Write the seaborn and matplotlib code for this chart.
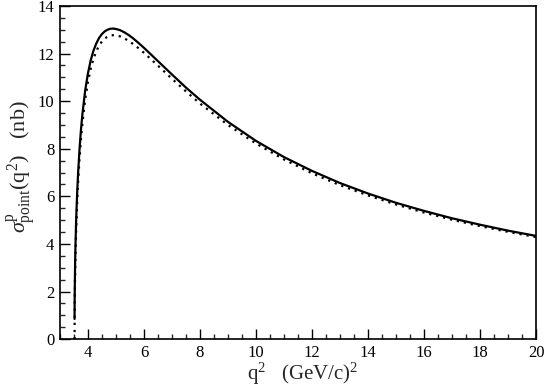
import matplotlib
matplotlib.use('Agg')
import matplotlib.pyplot as plt
from matplotlib.ticker import MultipleLocator
import seaborn as sns
import pandas as pd

# q^2 (GeV/c)^2
q2 = [3.522, 3.525, 3.53, 3.54, 3.55, 3.57, 3.58, 3.6, 3.62, 3.65, 3.7, 3.75,
      3.8, 3.9, 4.0, 4.1, 4.2, 4.3, 4.4, 4.5, 4.6, 4.7, 4.8, 4.9, 5.0, 5.15,
      5.3, 5.45, 5.6, 5.8, 6.0, 6.5, 7.0, 7.5, 8.0, 9.0, 10.0, 11.0, 12.0,
      13.0, 14.0, 15.0, 16.0, 17.0, 18.0, 19.0, 20.0]
# solid curve (nb)
sigma_solid = [0.85, 1.59, 2.23, 3.08, 3.70, 4.65, 5.04, 5.71, 6.29, 7.02,
               8.00, 8.79, 9.43, 10.44, 11.17, 11.72, 12.13, 12.43, 12.66,
               12.82, 12.93, 13.00, 13.04, 13.05, 13.03, 12.98, 12.89, 12.78,
               12.65, 12.45, 12.24, 11.68, 11.12, 10.57, 10.06, 9.13, 8.33,
               7.65, 7.07, 6.56, 6.12, 5.73, 5.39, 5.08, 4.81, 4.56, 4.34]
# dotted curve (nb)
sigma_dotted = [0.0, 1.11, 1.78, 2.63, 3.26, 4.22, 4.61, 5.29, 5.87, 6.61,
                7.60, 8.39, 9.04, 10.06, 10.81, 11.37, 11.79, 12.10, 12.34,
                12.51, 12.63, 12.71, 12.76, 12.77, 12.76, 12.72, 12.64, 12.53,
                12.41, 12.23, 12.03, 11.49, 10.94, 10.41, 9.90, 9.00, 8.22,
                7.55, 6.97, 6.47, 6.04, 5.66, 5.32, 5.02, 4.75, 4.51, 4.29]

df = pd.DataFrame({'q2': q2, 'solid': sigma_solid, 'dotted': sigma_dotted})

sns.set_style('ticks')
plt.rcParams['font.family'] = ['Liberation Serif', 'DejaVu Serif']
plt.rcParams['mathtext.fontset'] = 'custom'
plt.rcParams['mathtext.rm'] = 'Liberation Serif'
plt.rcParams['mathtext.it'] = 'Liberation Serif:italic'

fig = plt.figure(figsize=(5.45, 3.89), dpi=100)
ax = fig.add_axes([0.110, 0.128, 0.8735, 0.8568])

sns.lineplot(data=df, x='q2', y='solid', ax=ax, color='black', linewidth=1.6)
sns.lineplot(data=df, x='q2', y='dotted', ax=ax, color='black', linewidth=1.6,
             linestyle=(0, (1, 2.2)))

ax.set_xlim(3, 20)
ax.set_ylim(0, 14)
ax.xaxis.set_major_locator(MultipleLocator(2))
ax.xaxis.set_minor_locator(MultipleLocator(0.5))
ax.yaxis.set_major_locator(MultipleLocator(2))
ax.yaxis.set_minor_locator(MultipleLocator(0.5))
ax.set_xticks([4, 6, 8, 10, 12, 14, 16, 18, 20])
ax.tick_params(which='major', direction='in', length=7, width=1, labelsize=12,
               pad=4, colors='black')
ax.tick_params(which='minor', direction='in', length=3.5, width=1)
for s in ax.spines.values():
    s.set_linewidth(1.2)
    s.set_color('black')

ax.set_xlabel(r'q$^{2}$   (GeV/c)$^{2}$', fontsize=15)
ax.set_ylabel(r'$\sigma^{\rm p}_{\rm point}$(q$^{2}$)   (nb)', fontsize=16)
ax.xaxis.set_label_coords(0.51, -0.066)
ax.yaxis.set_label_coords(-0.047, 0.517)

fig.savefig('out.png', dpi=100)
